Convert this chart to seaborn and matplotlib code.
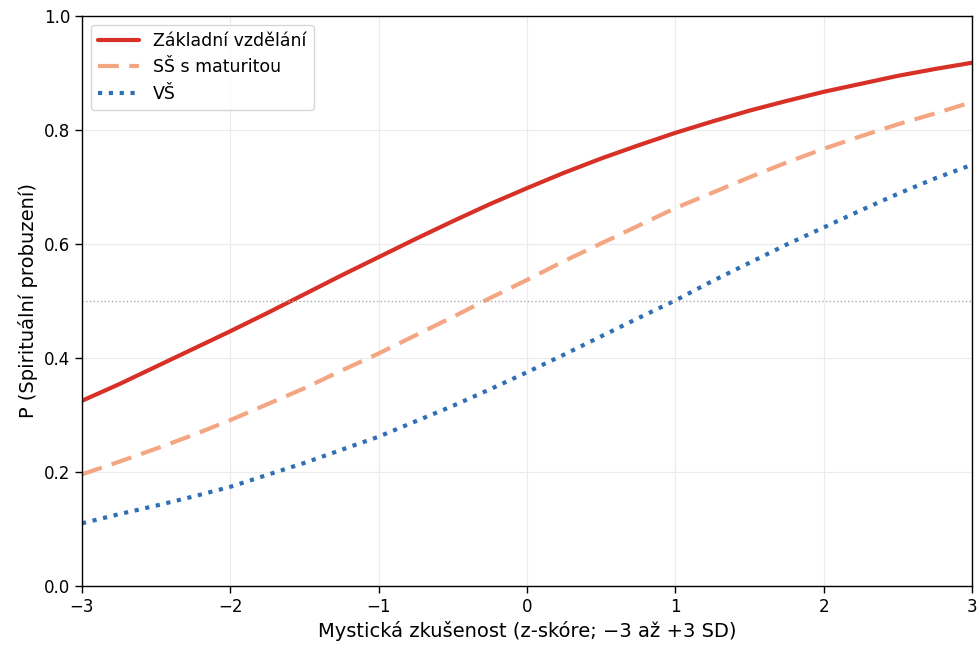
import matplotlib
matplotlib.use("Agg")
import matplotlib.pyplot as plt
import seaborn as sns
import pandas as pd

# values
z = [-3.0, -2.75, -2.5, -2.25, -2.0, -1.75, -1.5, -1.25, -1.0, -0.75, -0.5, -0.25, 0.0,
     0.25, 0.5, 0.75, 1.0, 1.25, 1.5, 1.75, 2.0, 2.25, 2.5, 2.75, 3.0]
p_zakladni = [0.325, 0.354, 0.385, 0.416, 0.447, 0.479, 0.512, 0.545, 0.577, 0.609, 0.640, 0.670, 0.698,
              0.725, 0.750, 0.773, 0.795, 0.815, 0.834, 0.851, 0.867, 0.881, 0.895, 0.907, 0.918]
p_ss = [0.196, 0.218, 0.241, 0.265, 0.291, 0.319, 0.347, 0.378, 0.408, 0.440, 0.472, 0.505, 0.537,
        0.570, 0.601, 0.632, 0.663, 0.690, 0.717, 0.743, 0.767, 0.789, 0.810, 0.829, 0.849]
p_vs = [0.110, 0.126, 0.141, 0.157, 0.174, 0.195, 0.216, 0.239, 0.262, 0.289, 0.316, 0.345, 0.375,
        0.406, 0.438, 0.470, 0.501, 0.535, 0.567, 0.599, 0.629, 0.659, 0.688, 0.715, 0.739]

labels = ["Základní vzdělání", "SŠ s maturitou", "VŠ"]
colors = ["#d73027", "#f4a582", "#2f6fb3"]
styles = ["-", (0, (5, 2.5)), (0, (1, 1.6))]

df = pd.DataFrame({"z": z * 3,
                   "p": p_zakladni + p_ss + p_vs,
                   "skupina": [labels[0]] * len(z) + [labels[1]] * len(z) + [labels[2]] * len(z)})

sns.set_style("whitegrid")
plt.rcParams["font.family"] = ["DejaVu Sans"]
plt.rcParams["text.color"] = "black"
plt.rcParams["axes.labelcolor"] = "black"
plt.rcParams["xtick.color"] = "black"
plt.rcParams["ytick.color"] = "black"

fig = plt.figure(figsize=(9.78, 6.45), dpi=100)
ax = fig.add_axes([82 / 978, 59 / 645, 890 / 978, 570 / 645])

for lab, col, ls in zip(labels, colors, styles):
    sub = df[df["skupina"] == lab]
    sns.lineplot(data=sub, x="z", y="p", ax=ax, color=col, linewidth=3,
                 linestyle=ls, label=lab)

ax.axhline(0.5, color="#aaaaaa", linestyle=":", linewidth=1)
ax.set_xlim(-3, 3)
ax.set_ylim(0, 1)
ax.set_xticks([-3, -2, -1, 0, 1, 2, 3])
ax.set_yticks([0.0, 0.2, 0.4, 0.6, 0.8, 1.0])
ax.grid(True, color="#ebebeb", linewidth=0.8)
for s in ax.spines.values():
    s.set_color("black")
    s.set_linewidth(1)
ax.tick_params(axis="both", which="both", length=5, width=1, color="black",
               labelsize=12, bottom=True, left=True)
ax.set_xlabel("Mystická zkušenost (z-skóre; −3 až +3 SD)", fontsize=14)
ax.set_ylabel("P (Spirituální probuzení)", fontsize=14)
ax.legend(loc="upper left", fontsize=12.5, handlelength=2.4, frameon=True)

fig.savefig("out.png", dpi=100)
